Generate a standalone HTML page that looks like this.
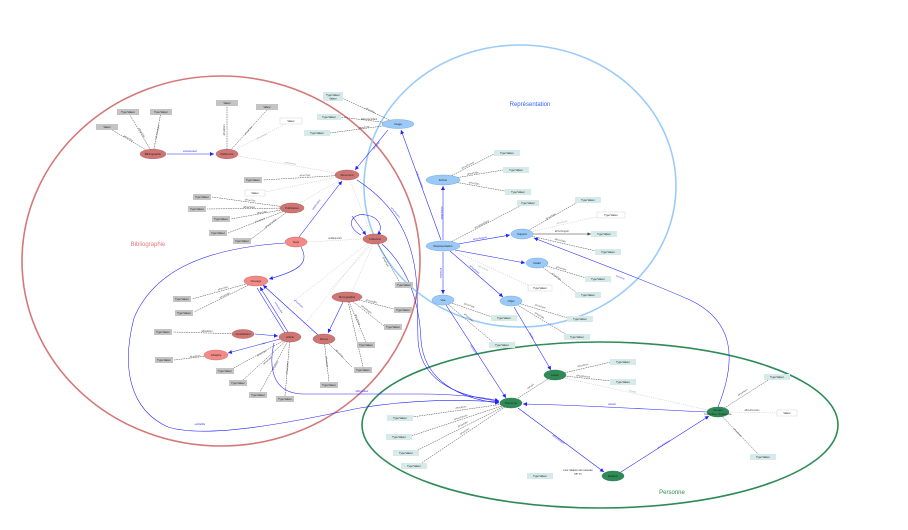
<!DOCTYPE html>
<html><head><meta charset="utf-8"><style>
html,body{margin:0;padding:0;background:#fff;}
svg{display:block;font-family:"Liberation Sans",sans-serif;}
.gb{fill:#c4c4c4;}
.tb{fill:#d7eaea;}
.wb{fill:#fff;stroke:#ccc;stroke-width:0.4;}
.bt{font-size:2.6px;fill:#222;text-anchor:middle;}
.nt{font-size:2.8px;fill:#222;text-anchor:middle;}
.el{font-size:2.3px;fill:#444;text-anchor:middle;}
.bl{font-size:2.3px;fill:#2a2aff;text-anchor:middle;}
.ge{stroke:#333;stroke-width:0.45;stroke-dasharray:1.6 0.8;fill:none;}
.fe{stroke:#bbb;stroke-width:0.45;stroke-dasharray:1.2 1;fill:none;}
.be{stroke:#2222ff;stroke-width:0.55;fill:none;}
.rn{fill:#cf7573;stroke:#a85050;stroke-width:0.4;}
.pn{fill:#f28b87;stroke:#c05a5a;stroke-width:0.4;}
.un{fill:#9ccaf7;stroke:#5a9be0;stroke-width:0.4;}
.gn{fill:#2e8b57;stroke:#1f6b40;stroke-width:0.4;}
</style></head><body>
<svg width="908" height="530" viewBox="0 0 908 530" xmlns="http://www.w3.org/2000/svg">
<defs>
<marker id="ab" markerWidth="5" markerHeight="5" refX="4" refY="2.5" orient="auto" markerUnits="userSpaceOnUse"><path d="M0,0.5 L4,2.5 L0,4.5 z" fill="#2222ff"/></marker>
<marker id="ag" markerWidth="4" markerHeight="4" refX="3.5" refY="2" orient="auto" markerUnits="userSpaceOnUse"><path d="M0,0.4 L3.5,2 L0,3.6 z" fill="#444"/></marker>
</defs>

<ellipse cx="221" cy="261" rx="199" ry="185" fill="none" stroke="#d57878" stroke-width="1.6"/>
<ellipse cx="520" cy="186" rx="156" ry="141" fill="none" stroke="#9acbfb" stroke-width="1.6"/>
<ellipse cx="600" cy="425" rx="238" ry="83" fill="none" stroke="#2e8b57" stroke-width="1.6"/>

<text x="148" y="246" font-size="6" fill="#e07a7a" text-anchor="middle">Bibliographie</text>
<text x="530" y="106" font-size="6" fill="#2f5fff" text-anchor="middle">Représentation</text>
<text x="672" y="494" font-size="6" fill="#2e8b57" text-anchor="middle">Personne</text>

<g>
<line class="ge" x1="153" y1="154" x2="107" y2="127"/>
<line class="ge" x1="153" y1="154" x2="128" y2="112"/>
<line class="ge" x1="153" y1="154" x2="161" y2="112"/>
<line class="ge" x1="227" y1="154" x2="227" y2="106"/>
<line class="ge" x1="227" y1="154" x2="267" y2="110"/>
<line class="fe" x1="227" y1="154" x2="291" y2="121"/>
<line class="fe" x1="238" y1="156" x2="336" y2="173"/>
<line class="ge" x1="347" y1="175" x2="263" y2="180"/>
<line class="fe" x1="347" y1="175" x2="265" y2="192"/>
<line class="ge" x1="292" y1="208" x2="212" y2="197"/>
<line class="ge" x1="292" y1="208" x2="207" y2="209"/>
<line class="ge" x1="292" y1="208" x2="231" y2="219"/>
<line class="ge" x1="292" y1="208" x2="228" y2="233"/>
<line class="ge" x1="292" y1="208" x2="250" y2="240"/>
<line class="fe" x1="300" y1="203" x2="340" y2="180"/>
<line class="fe" x1="350" y1="180" x2="371" y2="234"/>
<line class="fe" x1="307" y1="242" x2="363" y2="239"/>
<line class="ge" x1="378" y1="244" x2="400" y2="283"/>
<line class="fe" x1="370" y1="243" x2="300" y2="330"/>
<line class="fe" x1="372" y1="244" x2="330" y2="290"/>
<line class="fe" x1="373" y1="244" x2="352" y2="292"/>
<line class="fe" x1="368" y1="243" x2="270" y2="320"/>
<line class="ge" x1="257" y1="281" x2="192" y2="299"/>
<line class="ge" x1="257" y1="281" x2="194" y2="312"/>
<line class="ge" x1="347" y1="297" x2="394" y2="309"/>
<line class="ge" x1="347" y1="297" x2="384" y2="326"/>
<line class="ge" x1="347" y1="297" x2="366" y2="342"/>
<line class="ge" x1="347" y1="297" x2="363" y2="367"/>
<line class="ge" x1="243" y1="334" x2="173" y2="332"/>
<line class="ge" x1="290" y1="337" x2="232" y2="369"/>
<line class="ge" x1="290" y1="337" x2="243" y2="380"/>
<line class="ge" x1="290" y1="337" x2="260" y2="392"/>
<line class="ge" x1="290" y1="337" x2="285" y2="396"/>
<line class="ge" x1="324" y1="339" x2="329" y2="382"/>
<line class="ge" x1="324" y1="339" x2="352" y2="367"/>
<line class="ge" x1="216" y1="355" x2="174" y2="360"/>

<line class="ge" x1="398" y1="124" x2="342" y2="98"/>
<line class="ge" x1="398" y1="124" x2="340" y2="117"/>
<line class="ge" x1="398" y1="124" x2="330" y2="133"/>
<line class="ge" x1="443" y1="180" x2="494" y2="154"/>
<line class="ge" x1="443" y1="180" x2="503" y2="170"/>
<line class="ge" x1="443" y1="180" x2="505" y2="191"/>
<line class="ge" x1="443" y1="246" x2="520" y2="206"/>
<line class="fe" x1="443" y1="246" x2="530" y2="286"/>
<line class="ge" x1="522" y1="234" x2="578" y2="202"/>
<line class="fe" x1="522" y1="234" x2="600" y2="216"/>
<line x1="533" y1="234" x2="591" y2="234" stroke="#777" stroke-width="0.8" marker-end="url(#ag)"/>
<line class="ge" x1="522" y1="234" x2="596" y2="251"/>
<line class="ge" x1="537" y1="263" x2="586" y2="278"/>
<line class="ge" x1="537" y1="263" x2="577" y2="293"/>
<line class="ge" x1="443" y1="300" x2="492" y2="317"/>
<line class="ge" x1="443" y1="300" x2="494" y2="343"/>
<line class="ge" x1="511" y1="301" x2="568" y2="318"/>
<line class="ge" x1="511" y1="301" x2="567" y2="335"/>

<line class="ge" x1="555" y1="375" x2="611" y2="362"/>
<line class="ge" x1="555" y1="375" x2="611" y2="381"/>
<line class="fe" x1="565" y1="378" x2="708" y2="410"/>
<line class="ge" x1="518" y1="398" x2="548" y2="379"/>
<line class="ge" x1="511" y1="403" x2="412" y2="417"/>
<line class="ge" x1="511" y1="403" x2="411" y2="436"/>
<line class="ge" x1="511" y1="403" x2="416" y2="451"/>
<line class="ge" x1="511" y1="403" x2="420" y2="464"/>
<line class="ge" x1="718" y1="412" x2="770" y2="379"/>
<line class="fe" x1="728" y1="412" x2="777" y2="413"/>
<line class="ge" x1="718" y1="412" x2="758" y2="454"/>
</g>

<g class="el">
<text x="128" y="139" transform="rotate(30 128 139)">aPourTitre</text>
<text x="141" y="133" transform="rotate(59 141 133)">aPourDate</text>
<text x="158" y="132" transform="rotate(-79 158 132)">aPourLangue</text>
<text x="225" y="130" transform="rotate(-90 225 130)">aPourNom</text>
<text x="249" y="131" transform="rotate(-48 249 131)">aPourCote</text>
<text x="262" y="137" transform="rotate(-27 262 137)" fill="#aaa">aPourNote</text>
<text x="290" y="164" transform="rotate(10 290 164)" fill="#999">estPartieDe</text>
<text x="305" y="176" transform="rotate(-3 305 176)">aPourType</text>
<text x="250" y="201" transform="rotate(8 250 201)">aPourTitre</text>
<text x="249" y="208">aPourSujet</text>
<text x="262" y="213" transform="rotate(-10 262 213)">aPourLieu</text>
<text x="260" y="221" transform="rotate(-20 260 221)">aPourDate</text>
<text x="271" y="224" transform="rotate(-37 271 224)">aPourFormat</text>
<text x="335" y="239">seRapporteÀ</text>
<text x="223" y="289" transform="rotate(-16 223 289)">aPourTitre</text>
<text x="225" y="296" transform="rotate(-27 225 296)">aPourDate</text>
<text x="371" y="302" transform="rotate(15 371 302)">aPourISBN</text>
<text x="366" y="310" transform="rotate(38 366 310)">aPourPages</text>
<text x="357" y="320" transform="rotate(67 357 320)">aPourTome</text>
<text x="207" y="332">aPourNom</text>
<text x="262" y="354" transform="rotate(-29 262 354)">aPourTitre</text>
<text x="268" y="361" transform="rotate(-42 268 361)">aPourDate</text>
<text x="276" y="366" transform="rotate(-62 276 366)">aPourLieu</text>
<text x="288" y="368" transform="rotate(-85 288 368)">aPourEditeur</text>
<text x="326" y="362" transform="rotate(83 326 362)">aPourDate</text>
<text x="339" y="354" transform="rotate(45 339 354)">aPourNote</text>
<text x="195" y="357" transform="rotate(-7 195 357)">aPourNom</text>
<text x="385" y="262" transform="rotate(60 385 262)">aPourType</text>
<text x="370" y="111" transform="rotate(25 370 111)">aPourTitre</text>
<text x="369" y="120">aPourIdentifiant</text>
<text x="364" y="128" transform="rotate(-8 364 128)">aPourCote</text>
<text x="468" y="166" transform="rotate(-27 468 166)">aPourFormat</text>
<text x="473" y="174" transform="rotate(-9 473 174)">aPourTaille</text>
<text x="474" y="184" transform="rotate(9 474 184)">aPourDate</text>
<text x="482" y="225" transform="rotate(-27 482 225)">aPourIdentifiant</text>
<text x="551" y="217" transform="rotate(-30 551 217)">aPourType</text>
<text x="562" y="223" transform="rotate(-13 562 223)" fill="#aaa">aPourNote</text>
<text x="562" y="232">aPourSupport</text>
<text x="560" y="241" transform="rotate(13 560 241)">aPourDate</text>
<text x="561" y="269" transform="rotate(17 561 269)">aPourTitre</text>
<text x="556" y="277" transform="rotate(37 556 277)">aPourDate</text>
<text x="469" y="306" transform="rotate(19 469 306)">aPourType</text>
<text x="468" y="318" transform="rotate(41 468 318)">aPourTaille</text>
<text x="540" y="307" transform="rotate(17 540 307)">aPourType</text>
<text x="539" y="316" transform="rotate(31 539 316)">aPourDate</text>
<text x="483" y="269" transform="rotate(25 483 269)" fill="#aaa">aPourNote</text>
<text x="583" y="366" transform="rotate(-13 583 366)">aPourNom</text>
<text x="583" y="377" transform="rotate(6 583 377)">aPourPrénom</text>
<text x="632" y="392" transform="rotate(13 632 392)" fill="#999">connaît</text>
<text x="531" y="387" transform="rotate(-33 531 387)">estLiéÀ</text>
<text x="461" y="408" transform="rotate(-8 461 408)">aPourNom</text>
<text x="461" y="418" transform="rotate(-18 461 418)">aPourPrénom</text>
<text x="463" y="425" transform="rotate(-28 463 425)">aPourDate</text>
<text x="465" y="432" transform="rotate(-34 465 432)">aPourLieu</text>
<text x="743" y="393" transform="rotate(-33 743 393)">aPourNom</text>
<text x="752" y="411">aPourFonction</text>
<text x="737" y="433" transform="rotate(46 737 433)">aPourDate</text>
<text x="190" y="152" fill="#2a2aff">estAssociéeÀ</text>
</g>

<g>
<line class="be" x1="167" y1="154" x2="214" y2="154" marker-end="url(#ab)"/>
<line class="be" x1="388" y1="130" x2="355" y2="170" marker-end="url(#ab)"/>
<line class="be" x1="299" y1="237" x2="342" y2="181" marker-end="url(#ab)"/>
<line class="be" x1="441" y1="240" x2="401" y2="130" marker-end="url(#ab)"/>
<line class="be" x1="443" y1="240" x2="443" y2="186" marker-end="url(#ab)"/>
<line class="be" x1="458" y1="244" x2="510" y2="235" marker-end="url(#ab)"/>
<line class="be" x1="455" y1="250" x2="525" y2="263" marker-end="url(#ab)"/>
<line class="be" x1="443" y1="252" x2="443" y2="294" marker-end="url(#ab)"/>
<line class="be" x1="450" y1="251" x2="503" y2="297" marker-end="url(#ab)"/>
<line class="be" x1="446" y1="305" x2="506" y2="398" marker-end="url(#ab)"/>
<line class="be" x1="514" y1="307" x2="551" y2="370" marker-end="url(#ab)"/>
<path class="be" d="M707,412 C640,409 580,405 523,404" marker-end="url(#ab)"/>
<line class="be" x1="518" y1="408" x2="604" y2="472" marker-end="url(#ab)"/>
<line class="be" x1="621" y1="472" x2="709" y2="416" marker-end="url(#ab)"/>
<path class="be" d="M718,407 C736,362 736,322 690,300 C650,282 580,256 534,238" marker-end="url(#ab)"/>
<line class="be" x1="288" y1="332" x2="260" y2="287" marker-end="url(#ab)"/>
<line class="be" x1="285" y1="333" x2="257" y2="288"/>
<line class="be" x1="318" y1="335" x2="263" y2="285" marker-end="url(#ab)"/>
<line class="be" x1="343" y1="302" x2="328" y2="333" marker-end="url(#ab)"/>
<line class="be" x1="255" y1="334" x2="278" y2="336" marker-end="url(#ab)"/>
<line class="be" x1="280" y1="339" x2="228" y2="353" marker-end="url(#ab)"/>
<path class="be" d="M301,247 C309,262 302,270 269,279" marker-end="url(#ab)"/>
<path class="be" d="M285,243 C210,248 155,268 134,318 C121,368 130,410 168,427 C210,440 300,420 360,408 C420,398 470,400 499,402" marker-end="url(#ab)"/>
<path class="be" d="M274,343 C268,370 274,393 302,394 L420,394 C460,394 488,398 499,401" marker-end="url(#ab)"/>
<path class="be" d="M357,180 C396,205 415,240 417,290 L418,340 C420,378 452,396 499,401" marker-end="url(#ab)"/>
<path class="be" d="M382,244 C402,262 419,292 421,340 C424,382 462,399 499,403" marker-end="url(#ab)"/>
<path class="be" d="M361,235 C344,226 352,212 366,215 C380,217 384,229 377,235" marker-end="url(#ab)"/>
<line class="be" x1="352" y1="216" x2="366" y2="235" marker-end="url(#ab)"/>
</g>
<g class="bl">
<text x="377" y="146" transform="rotate(-50 377 146)">aPourRéf</text>
<text x="317" y="205" transform="rotate(-52 317 205)">estDécritPar</text>
<text x="419" y="180" transform="rotate(70 419 180)">estReprésentéPar</text>
<text x="441" y="213" transform="rotate(90 441 213)">aPourFichier</text>
<text x="480" y="239" transform="rotate(-10 480 239)">aPourSupport</text>
<text x="440" y="273" transform="rotate(90 440 273)">aPourVue</text>
<text x="474" y="270" transform="rotate(41 474 270)">aPourDétail</text>
<text x="473" y="350" transform="rotate(57 473 350)">représente</text>
<text x="531" y="336" transform="rotate(60 531 336)">montre</text>
<text x="612" y="405">estLiéÀ</text>
<text x="558" y="440" transform="rotate(36 558 440)">aPourRelation</text>
<text x="664" y="445" transform="rotate(-32 664 445)">aPourRelation</text>
<text x="620" y="278" transform="rotate(22 620 278)">concerne</text>
<text x="278" y="308" transform="rotate(58 278 308)">estAuteurDe</text>
<text x="298" y="304" transform="rotate(42 298 304)">aPourSujet</text>
<text x="264" y="344" transform="rotate(-15 264 344)">cite</text>
<text x="200" y="425">estCitéPar</text>
<text x="362" y="392">aPourAuteur</text>
<text x="395" y="213" transform="rotate(50 395 213)">aPourSource</text>
</g>

<g>
<rect class="gb" x="96" y="124" width="22" height="6"/><text class="bt" x="107" y="128">Valeur</text>
<rect class="gb" x="117" y="109" width="22" height="6"/><text class="bt" x="128" y="113">Type:Valeur</text>
<rect class="gb" x="150" y="109" width="22" height="6"/><text class="bt" x="161" y="113">Type:Valeur</text>
<rect class="gb" x="216" y="100" width="22" height="6"/><text class="bt" x="227" y="104">Valeur</text>
<rect class="gb" x="256" y="104" width="22" height="6"/><text class="bt" x="267" y="108">Valeur</text>
<rect class="wb" x="280" y="118" width="22" height="6"/><text class="bt" x="291" y="122" fill="#bbb">Valeur</text>
<rect class="gb" x="244" y="177" width="18" height="6"/><text class="bt" x="253" y="181">Type:Valeur</text>
<rect class="wb" x="245" y="190" width="20" height="6"/><text class="bt" x="255" y="194" fill="#bbb">Valeur</text>
<rect class="gb" x="193" y="194" width="18" height="6"/><text class="bt" x="202" y="198">Type:Valeur</text>
<rect class="gb" x="188" y="206" width="18" height="6"/><text class="bt" x="197" y="210">Type:Valeur</text>
<rect class="gb" x="212" y="216" width="18" height="6"/><text class="bt" x="221" y="220">Type:Valeur</text>
<rect class="gb" x="209" y="230" width="18" height="6"/><text class="bt" x="218" y="234">Type:Valeur</text>
<rect class="gb" x="233" y="238" width="18" height="6"/><text class="bt" x="242" y="242">Type:Valeur</text>
<rect class="gb" x="395" y="282" width="18" height="6"/><text class="bt" x="404" y="286">Type:Valeur</text>
<rect class="gb" x="394" y="307" width="18" height="6"/><text class="bt" x="403" y="311">Type:Valeur</text>
<rect class="gb" x="384" y="324" width="18" height="6"/><text class="bt" x="393" y="328">Type:Valeur</text>
<rect class="gb" x="357" y="342" width="18" height="6"/><text class="bt" x="366" y="346">Type:Valeur</text>
<rect class="gb" x="354" y="367" width="18" height="6"/><text class="bt" x="363" y="371">Type:Valeur</text>
<rect class="gb" x="320" y="382" width="18" height="6"/><text class="bt" x="329" y="386">Type:Valeur</text>
<rect class="gb" x="173" y="296" width="18" height="6"/><text class="bt" x="182" y="300">Type:Valeur</text>
<rect class="gb" x="175" y="310" width="18" height="6"/><text class="bt" x="184" y="314">Type:Valeur</text>
<rect class="gb" x="154" y="329" width="18" height="6"/><text class="bt" x="163" y="333">Type:Valeur</text>
<rect class="gb" x="155" y="357" width="18" height="6"/><text class="bt" x="164" y="361">Type:Valeur</text>
<rect class="gb" x="216" y="368" width="18" height="6"/><text class="bt" x="225" y="372">Type:Valeur</text>
<rect class="gb" x="229" y="380" width="18" height="6"/><text class="bt" x="238" y="384">Type:Valeur</text>
<rect class="gb" x="249" y="392" width="18" height="6"/><text class="bt" x="258" y="396">Type:Valeur</text>
<rect class="gb" x="276" y="396" width="18" height="6"/><text class="bt" x="285" y="400">Type:Valeur</text>

<rect class="tb" x="323" y="92" width="20" height="9"/><text class="bt" x="333" y="96">Type:Valeur</text><text class="bt" x="333" y="99.5">Valeur</text>
<rect class="tb" x="317" y="114" width="24" height="6"/><text class="bt" x="329" y="118">Type:Valeur</text>
<rect class="tb" x="304" y="130" width="26" height="6"/><text class="bt" x="317" y="134">Type:Valeur</text>
<rect class="tb" x="494" y="150" width="26" height="6"/><text class="bt" x="507" y="154">Type:Valeur</text>
<rect class="tb" x="503" y="167" width="26" height="6"/><text class="bt" x="516" y="171">Type:Valeur</text>
<rect class="tb" x="505" y="189" width="26" height="6"/><text class="bt" x="518" y="193">Type:Valeur</text>
<rect class="tb" x="517" y="200" width="22" height="6"/><text class="bt" x="528" y="204">Type:Valeur</text>
<rect class="tb" x="575" y="197" width="26" height="6"/><text class="bt" x="588" y="201">Type:Valeur</text>
<rect class="wb" x="597" y="212" width="28" height="6"/><text class="bt" x="611" y="216" fill="#999">Type:Valeur</text>
<rect class="tb" x="591" y="231" width="26" height="6"/><text class="bt" x="604" y="235">Type:Valeur</text>
<rect class="tb" x="595" y="249" width="26" height="6"/><text class="bt" x="608" y="253">Type:Valeur</text>
<rect class="tb" x="585" y="276" width="26" height="6"/><text class="bt" x="598" y="280">Type:Valeur</text>
<rect class="tb" x="575" y="292" width="26" height="6"/><text class="bt" x="588" y="296">Type:Valeur</text>
<rect class="wb" x="528" y="285" width="24" height="6"/><text class="bt" x="540" y="289" fill="#bbb">Type:Valeur</text>
<rect class="tb" x="491" y="315" width="26" height="6"/><text class="bt" x="504" y="319">Type:Valeur</text>
<rect class="tb" x="489" y="342" width="26" height="6"/><text class="bt" x="502" y="346">Type:Valeur</text>
<rect class="tb" x="567" y="316" width="26" height="6"/><text class="bt" x="580" y="320">Type:Valeur</text>
<rect class="tb" x="564" y="334" width="26" height="6"/><text class="bt" x="577" y="338">Type:Valeur</text>
<rect class="tb" x="610" y="359" width="26" height="6"/><text class="bt" x="623" y="363">Type:Valeur</text>
<rect class="tb" x="610" y="379" width="26" height="6"/><text class="bt" x="623" y="383">Type:Valeur</text>
<rect class="tb" x="387" y="415" width="26" height="6"/><text class="bt" x="400" y="419">Type:Valeur</text>
<rect class="tb" x="386" y="434" width="26" height="6"/><text class="bt" x="399" y="438">Type:Valeur</text>
<rect class="tb" x="393" y="450" width="26" height="6"/><text class="bt" x="406" y="454">Type:Valeur</text>
<rect class="tb" x="401" y="463" width="26" height="6"/><text class="bt" x="414" y="467">Type:Valeur</text>
<rect class="tb" x="527" y="473" width="26" height="6"/><text class="bt" x="540" y="477">Type:Valeur</text>
<rect class="tb" x="764" y="374" width="26" height="6"/><text class="bt" x="777" y="378">Type:Valeur</text>
<rect class="wb" x="777" y="410" width="20" height="6"/><text class="bt" x="787" y="414">Valeur</text>
<rect class="tb" x="750" y="454" width="26" height="6"/><text class="bt" x="763" y="458">Type:Valeur</text>
<text class="bt" x="578" y="471">Leur relation est mesurée</text>
<text class="bt" x="578" y="474.5">par un</text>
</g>

<g>
<ellipse class="rn" cx="153" cy="154" rx="13" ry="4.8"/><text class="nt" x="153" y="155">Bibliographie</text>
<ellipse class="rn" cx="227" cy="154" rx="11" ry="4.8"/><text class="nt" x="227" y="155">Référence</text>
<ellipse class="rn" cx="347" cy="175" rx="12" ry="5"/><text class="nt" x="347" y="176">Document</text>
<ellipse class="rn" cx="292" cy="208" rx="12" ry="5"/><text class="nt" x="292" y="209">Publication</text>
<ellipse class="pn" cx="296" cy="242" rx="11" ry="5"/><text class="nt" x="296" y="243">Sujet</text>
<ellipse class="rn" cx="375" cy="239" rx="12" ry="5"/><text class="nt" x="375" y="240">Collection</text>
<ellipse class="pn" cx="256" cy="281" rx="12" ry="5"/><text class="nt" x="256" y="282">Ouvrage</text>
<ellipse class="rn" cx="347" cy="297" rx="15" ry="5"/><text class="nt" x="347" y="298">Monographie</text>
<ellipse class="rn" cx="243" cy="334" rx="11" ry="4.5"/><text class="nt" x="243" y="335">Contribution</text>
<ellipse class="rn" cx="290" cy="337" rx="11" ry="5"/><text class="nt" x="290" y="338">Article</text>
<ellipse class="rn" cx="324" cy="339" rx="11" ry="5"/><text class="nt" x="324" y="340">Revue</text>
<ellipse class="pn" cx="216" cy="355" rx="12" ry="5"/><text class="nt" x="216" y="356">Chapitre</text>

<ellipse class="un" cx="398" cy="124" rx="16" ry="4.5"/><text class="nt" x="398" y="125">Image</text>
<ellipse class="un" cx="443" cy="180" rx="17" ry="5"/><text class="nt" x="443" y="181">Fichier</text>
<ellipse class="un" cx="443" cy="246" rx="17" ry="5"/><text class="nt" x="443" y="247">Représentation</text>
<ellipse class="un" cx="522" cy="234" rx="11" ry="5"/><text class="nt" x="522" y="235">Support</text>
<ellipse class="un" cx="537" cy="263" rx="11" ry="5"/><text class="nt" x="537" y="264">Détail</text>
<ellipse class="un" cx="443" cy="300" rx="11" ry="5"/><text class="nt" x="443" y="301">Vue</text>
<ellipse class="un" cx="511" cy="301" rx="11" ry="5"/><text class="nt" x="511" y="302">Objet</text>

<ellipse class="gn" cx="555" cy="375" rx="11" ry="5"/><text class="nt" x="555" y="376">Auteur</text>
<ellipse class="gn" cx="511" cy="403" rx="11" ry="5"/><text class="nt" x="511" y="404">Personne</text>
<ellipse class="gn" cx="613" cy="476" rx="11" ry="5"/><text class="nt" x="613" y="477">Relation</text>
<ellipse class="gn" cx="718" cy="412" rx="11" ry="5"/><text class="nt" x="718" y="411">Groupe</text>
<text class="nt" x="718" y="415">Institution, Organisme</text>
</g>
</svg>
</body></html>
